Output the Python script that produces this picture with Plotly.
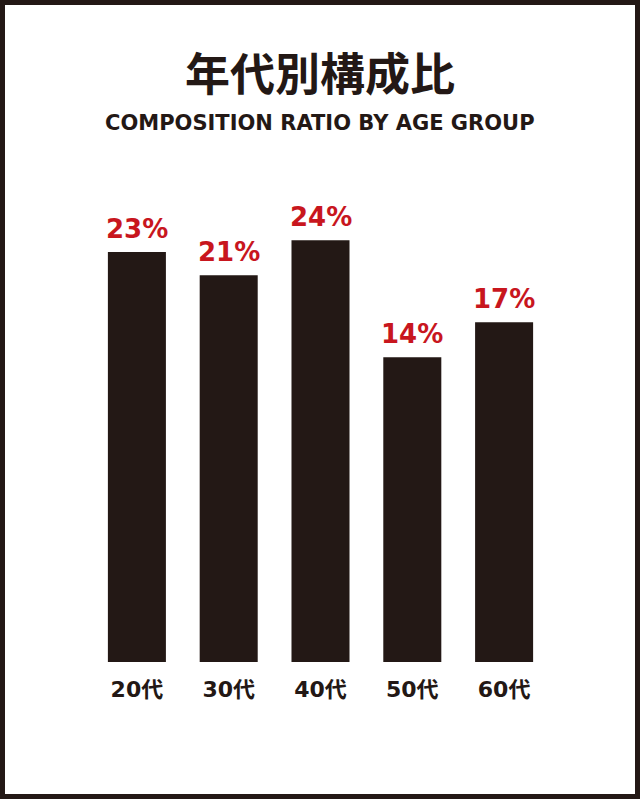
import plotly.graph_objects as go

categories = ["20代", "30代", "40代", "50代", "60代"]
values = [23, 21, 24, 14, 17]
value_labels = ["23%", "21%", "24%", "14%", "17%"]

title_text = "年代別構成比"
subtitle_text = "COMPOSITION RATIO BY AGE GROUP"

BAR = "#231815"
RED = "#c8161e"
W, H = 640, 799
ML, MR, MT, MB = 91, 90, 180, 137
BASE = -12.05
YTOP = 29.15
LATIN = "DejaVu Sans, Noto Sans CJK JP"

fig = go.Figure()
fig.add_trace(go.Bar(
    x=categories, y=[v - BASE for v in values], base=BASE,
    marker=dict(color=BAR, line=dict(width=0)),
    hoverinfo="skip",
))
for c, v, t in zip(categories, values, value_labels):
    fig.add_annotation(x=c, y=v, text=t, showarrow=False, yanchor="bottom", yshift=6,
                       font=dict(family=LATIN, size=26, color=RED, weight="bold"))

pw = W - ML - MR
ph = H - MT - MB
def px(x):
    return (x - ML) / pw
def py(y):
    return (H - MB - y) / ph

fig.add_shape(type="rect", xref="paper", yref="paper",
              x0=px(2.5), x1=px(W - 2.5), y0=py(H - 2.5), y1=py(2.5),
              line=dict(color=BAR, width=5), fillcolor="rgba(0,0,0,0)", layer="above")

fig.add_annotation(xref="paper", yref="paper", x=px(320), y=py(72), text=title_text,
                   showarrow=False, xanchor="center", yanchor="middle",
                   font=dict(family="Noto Sans CJK JP", size=45, color=BAR, weight="bold"))
fig.add_annotation(xref="paper", yref="paper", x=px(320), y=py(123), text=subtitle_text,
                   showarrow=False, xanchor="center", yanchor="middle",
                   font=dict(family=LATIN, size=21, color=BAR, weight="bold"))

fig.update_layout(
    width=W, height=H,
    margin=dict(l=ML, r=MR, t=MT, b=MB, pad=0),
    paper_bgcolor="white", plot_bgcolor="white",
    bargap=0.368, showlegend=False,
    xaxis=dict(showgrid=False, zeroline=False, showline=False, ticks="",
               tickfont=dict(family=LATIN, size=22, color=BAR, weight="bold"),
               ticklabelstandoff=12, range=[-0.5, 4.5]),
    yaxis=dict(visible=False, range=[BASE, YTOP]),
)

fig.write_html("out.html", config={"displayModeBar": False},
               post_script="document.body.style.margin='0';")
